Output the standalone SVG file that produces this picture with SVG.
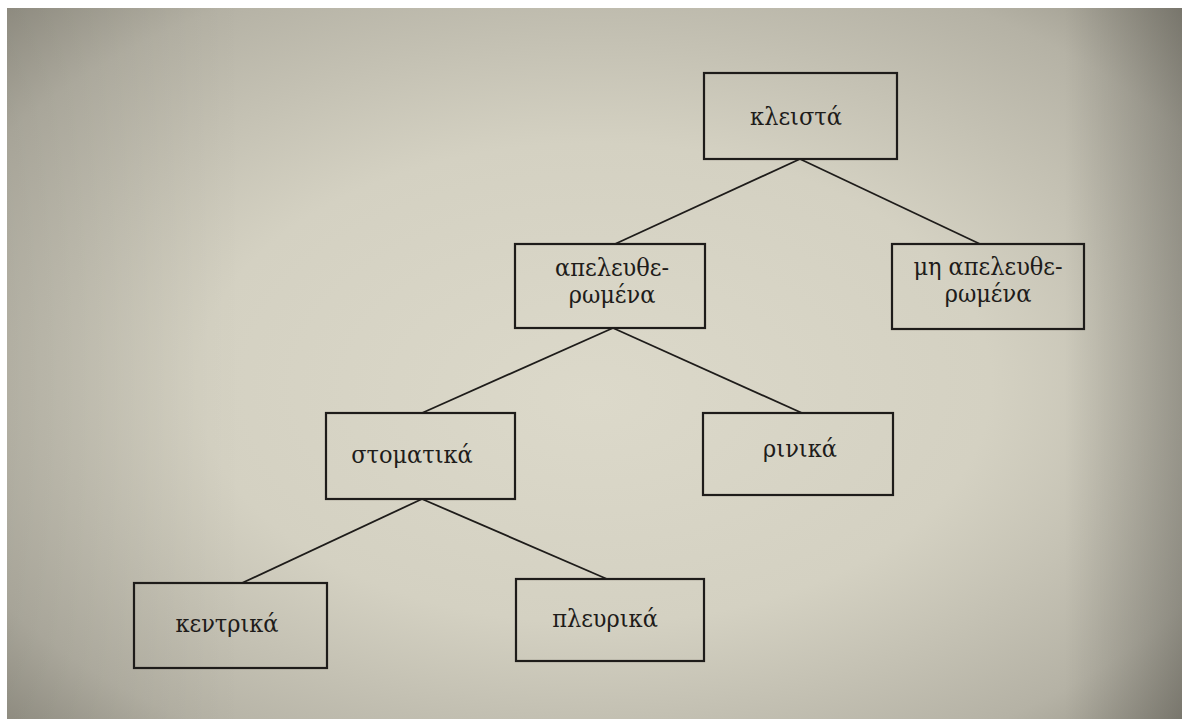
<svg xmlns="http://www.w3.org/2000/svg" width="1182" height="719" viewBox="0 0 1182 719">
<defs>
<radialGradient id="page" cx="0.5" cy="0.5" r="0.75" fx="0.5" fy="0.55">
<stop offset="0" stop-color="#dcd9ca"/>
<stop offset="0.45" stop-color="#d4d1c2"/>
<stop offset="0.8" stop-color="#b5b2a5"/>
<stop offset="1" stop-color="#8f8c80"/>
</radialGradient>
<linearGradient id="shade" x1="0" y1="0" x2="1" y2="0">
<stop offset="0" stop-color="#000" stop-opacity="0.08"/>
<stop offset="0.2" stop-color="#000" stop-opacity="0"/>
<stop offset="0.9" stop-color="#000" stop-opacity="0"/>
<stop offset="1" stop-color="#000" stop-opacity="0.22"/>
</linearGradient>
<style>
.box{fill:none;stroke:#1e1c1a;stroke-width:2.2}
.lbl{font-family:"DejaVu Serif Condensed","DejaVu Serif","Liberation Serif",serif;font-stretch:condensed;font-size:25px;fill:#1e1c1a;text-anchor:middle}
.edge{stroke:#1e1c1a;stroke-width:1.8;fill:none}
</style>
</defs>
<rect x="0" y="0" width="1182" height="719" fill="#ffffff"/>
<rect x="7" y="8" width="1175" height="711" fill="url(#page)"/>
<rect x="7" y="8" width="1175" height="711" fill="url(#shade)"/>
<g id="connectors">
<line class="edge" x1="800" y1="159" x2="615" y2="244"/>
<line class="edge" x1="800" y1="159" x2="980" y2="244"/>
<line class="edge" x1="613" y1="328" x2="422" y2="413"/>
<line class="edge" x1="613" y1="328" x2="802" y2="413"/>
<line class="edge" x1="422" y1="499" x2="242" y2="583"/>
<line class="edge" x1="422" y1="499" x2="607" y2="579"/>
</g>
<g id="kleista">
<rect class="box" x="704" y="73" width="193" height="86"/>
<text class="lbl" x="796" y="125">κλειστά</text>
</g>
<g id="apeleftheromena">
<rect class="box" x="515" y="244" width="190" height="84"/>
<text class="lbl" x="612" y="276">απελευθε-</text>
<text class="lbl" x="612" y="303">ρωμένα</text>
</g>
<g id="mi-apeleftheromena">
<rect class="box" x="892" y="244" width="192" height="85"/>
<text class="lbl" x="988" y="275">μη απελευθε-</text>
<text class="lbl" x="988" y="302">ρωμένα</text>
</g>
<g id="stomatika">
<rect class="box" x="326" y="413" width="189" height="86"/>
<text class="lbl" x="412" y="463">στοματικά</text>
</g>
<g id="rinika">
<rect class="box" x="703" y="413" width="190" height="82"/>
<text class="lbl" x="800" y="457">ρινικά</text>
</g>
<g id="kentrika">
<rect class="box" x="134" y="583" width="193" height="85"/>
<text class="lbl" x="227" y="632">κεντρικά</text>
</g>
<g id="plevrika">
<rect class="box" x="516" y="579" width="188" height="82"/>
<text class="lbl" x="605" y="627">πλευρικά</text>
</g>
</svg>
